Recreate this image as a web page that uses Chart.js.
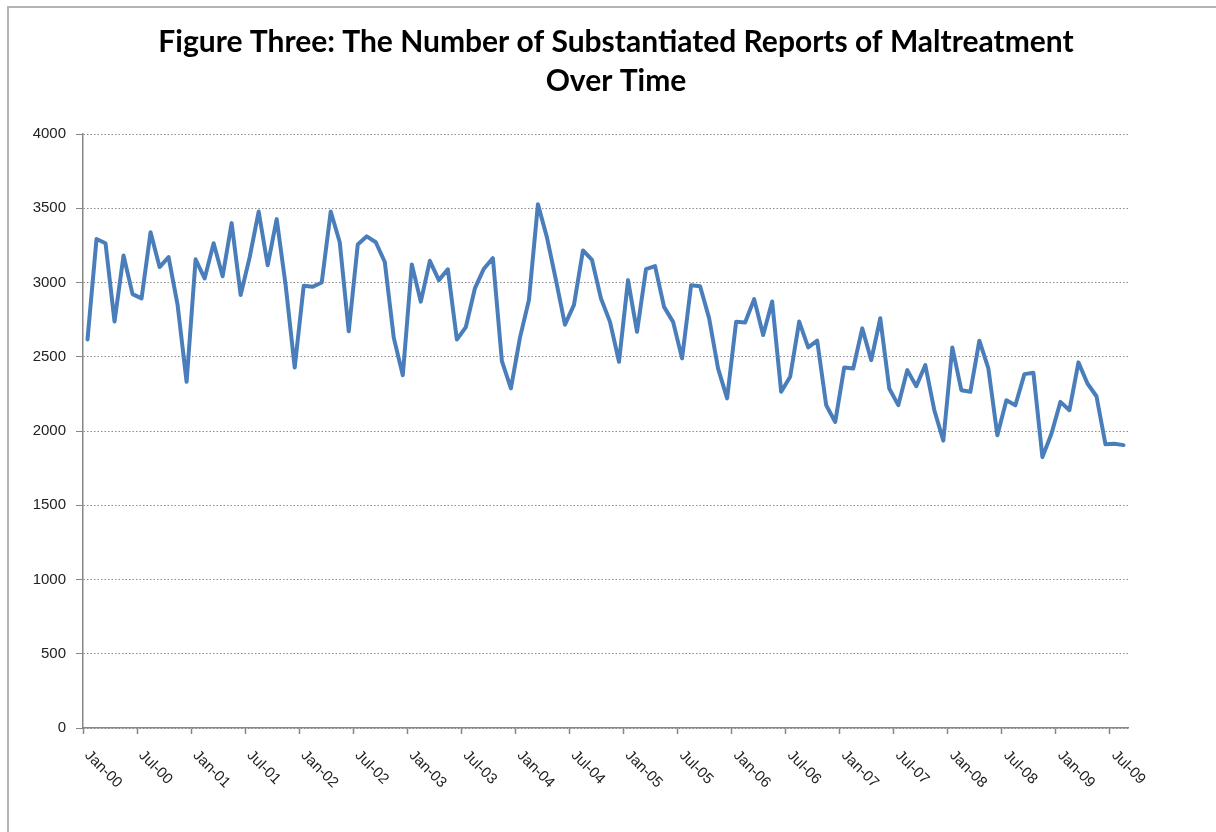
<!DOCTYPE html>
<html>
<head>
<meta charset="utf-8">
<script src="https://cdn.jsdelivr.net/npm/chart.js@4.4.1/dist/chart.umd.min.js"></script>
<style>
    html, body { margin: 0; padding: 0; background: #fff; overflow: hidden; }
    #frame {
        position: absolute; left: 7px; top: 6px; width: 1250px; height: 870px;
        border-top: 2px solid #b4b4b4; border-left: 2px solid #b4b4b4;
    }
    #wrap { position: absolute; left: 8px; top: 0; width: 1216px; height: 832px; }
</style>
</head>
<body>
<div id="frame"></div>
<div id="wrap"><canvas id="maltreatment"></canvas></div>
<script>
// monthly substantiated reports, one array per year
var reports2000 = [2616, 3293, 3264, 2738, 3182, 2922, 2893, 3338, 3104, 3171, 2849, 2331];
var reports2001 = [3156, 3027, 3264, 3042, 3400, 2916, 3170, 3478, 3116, 3427, 2980, 2427];
var reports2002 = [2978, 2971, 3000, 3478, 3271, 2671, 3256, 3311, 3271, 3138, 2627, 2376];
var reports2003 = [3122, 2871, 3146, 3016, 3089, 2616, 2700, 2960, 3093, 3164, 2471, 2287];
var reports2004 = [2627, 2882, 3527, 3304, 3016, 2716, 2849, 3216, 3152, 2892, 2735, 2466];
var reports2005 = [3016, 2668, 3090, 3110, 2836, 2735, 2489, 2982, 2975, 2760, 2420, 2220];
var reports2006 = [2735, 2731, 2888, 2646, 2872, 2264, 2365, 2737, 2563, 2608, 2173, 2061];
var reports2007 = [2428, 2421, 2691, 2477, 2759, 2286, 2174, 2410, 2302, 2444, 2140, 1935];
var reports2008 = [2563, 2275, 2264, 2608, 2421, 1971, 2207, 2173, 2383, 2392, 1824, 1982];
var reports2009 = [2196, 2140, 2462, 2320, 2234, 1910, 1914, 1905];

var monthNames = ["Jan", "Feb", "Mar", "Apr", "May", "Jun", "Jul", "Aug", "Sep", "Oct", "Nov", "Dec"];
var yearCodes = ["00", "01", "02", "03", "04", "05", "06", "07", "08", "09"];

var reports = [].concat(reports2000, reports2001, reports2002, reports2003, reports2004,
    reports2005, reports2006, reports2007, reports2008, reports2009);

var months = [];
for (var i = 0; i < reports.length; i++) {
    months.push(monthNames[i % 12] + "-" + yearCodes[Math.floor(i / 12)]);
}

var axisGrey = "#868686";

// Excel style slanted month labels, starting at the tick
var slantLabels = {
    id: "slantLabels",
    afterDraw: function(chart) {
        var x = chart.scales.x;
        var ctx = chart.ctx;
        var half = (x.getPixelForValue(1) - x.getPixelForValue(0)) / 2;
        ctx.save();
        ctx.font = "15px 'Liberation Sans', Arial, sans-serif";
        ctx.fillStyle = "#222";
        ctx.textAlign = "left";
        ctx.textBaseline = "middle";
        for (var i = 0; i < months.length; i += 6) {
            var px = x.getPixelForValue(i) - half;
            ctx.save();
            ctx.translate(px + 4, x.top + 25);
            ctx.rotate(Math.PI / 4);
            ctx.fillText(months[i], 0, 0);
            ctx.restore();
        }
        ctx.restore();
    }
};

var ctx = document.getElementById("maltreatment").getContext("2d");
var myChart = new Chart(ctx, {
    type: "line",
    data: {
        labels: months,
        datasets: [{
            label: "Substantiated reports",
            data: reports,
            borderColor: "#4a7ebb",
            borderWidth: 4,
            borderJoinStyle: "round",
            borderCapStyle: "round",
            pointRadius: 0,
            tension: 0,
            fill: false
        }]
    },
    options: {
        responsive: true,
        maintainAspectRatio: false,
        animation: false,
        layout: { padding: 0 },
        plugins: {
            legend: { display: false },
            tooltip: { enabled: false },
            title: {
                display: true,
                text: ["Figure Three: The Number of Substantiated Reports of Maltreatment", "Over Time"],
                color: "#000",
                font: { family: "Lato, 'Open Sans', sans-serif", size: 30, weight: "bold", lineHeight: 1.3 },
                padding: { top: 23, bottom: 33 }
            }
        },
        scales: {
            x: {
                offset: true,
                grid: {
                    offset: true,
                    drawOnChartArea: false,
                    drawTicks: true,
                    tickLength: 6,
                    tickColor: function(c) { return c.index % 6 === 0 ? axisGrey : "rgba(0,0,0,0)"; },
                    tickWidth: 1.5
                },
                border: { color: axisGrey, width: 1.5 },
                ticks: { display: false, autoSkip: false },
                afterFit: function(scale) { scale.height = 104; }
            },
            y: {
                min: 0,
                max: 4000,
                grid: {
                    color: "#8c8c8c",
                    lineWidth: 1,
                    tickLength: 7,
                    tickColor: axisGrey
                },
                border: { color: axisGrey, width: 1.5, dash: [1.5, 2] },
                ticks: {
                    stepSize: 500,
                    padding: 10,
                    color: "#222",
                    font: { family: "'Liberation Sans', Arial, sans-serif", size: 15 },
                    callback: function(v) { return v; }
                },
                afterFit: function(scale) { scale.width = 75; }
            },
            // empty right-hand margin, keeps the title centred on the whole canvas
            spacer: {
                type: "linear",
                position: "right",
                display: true,
                grid: { display: false, drawTicks: false },
                border: { display: false },
                ticks: { display: false },
                afterFit: function(scale) { scale.width = 96; }
            }
        }
    },
    plugins: [slantLabels]
});
</script>
</body>
</html>
